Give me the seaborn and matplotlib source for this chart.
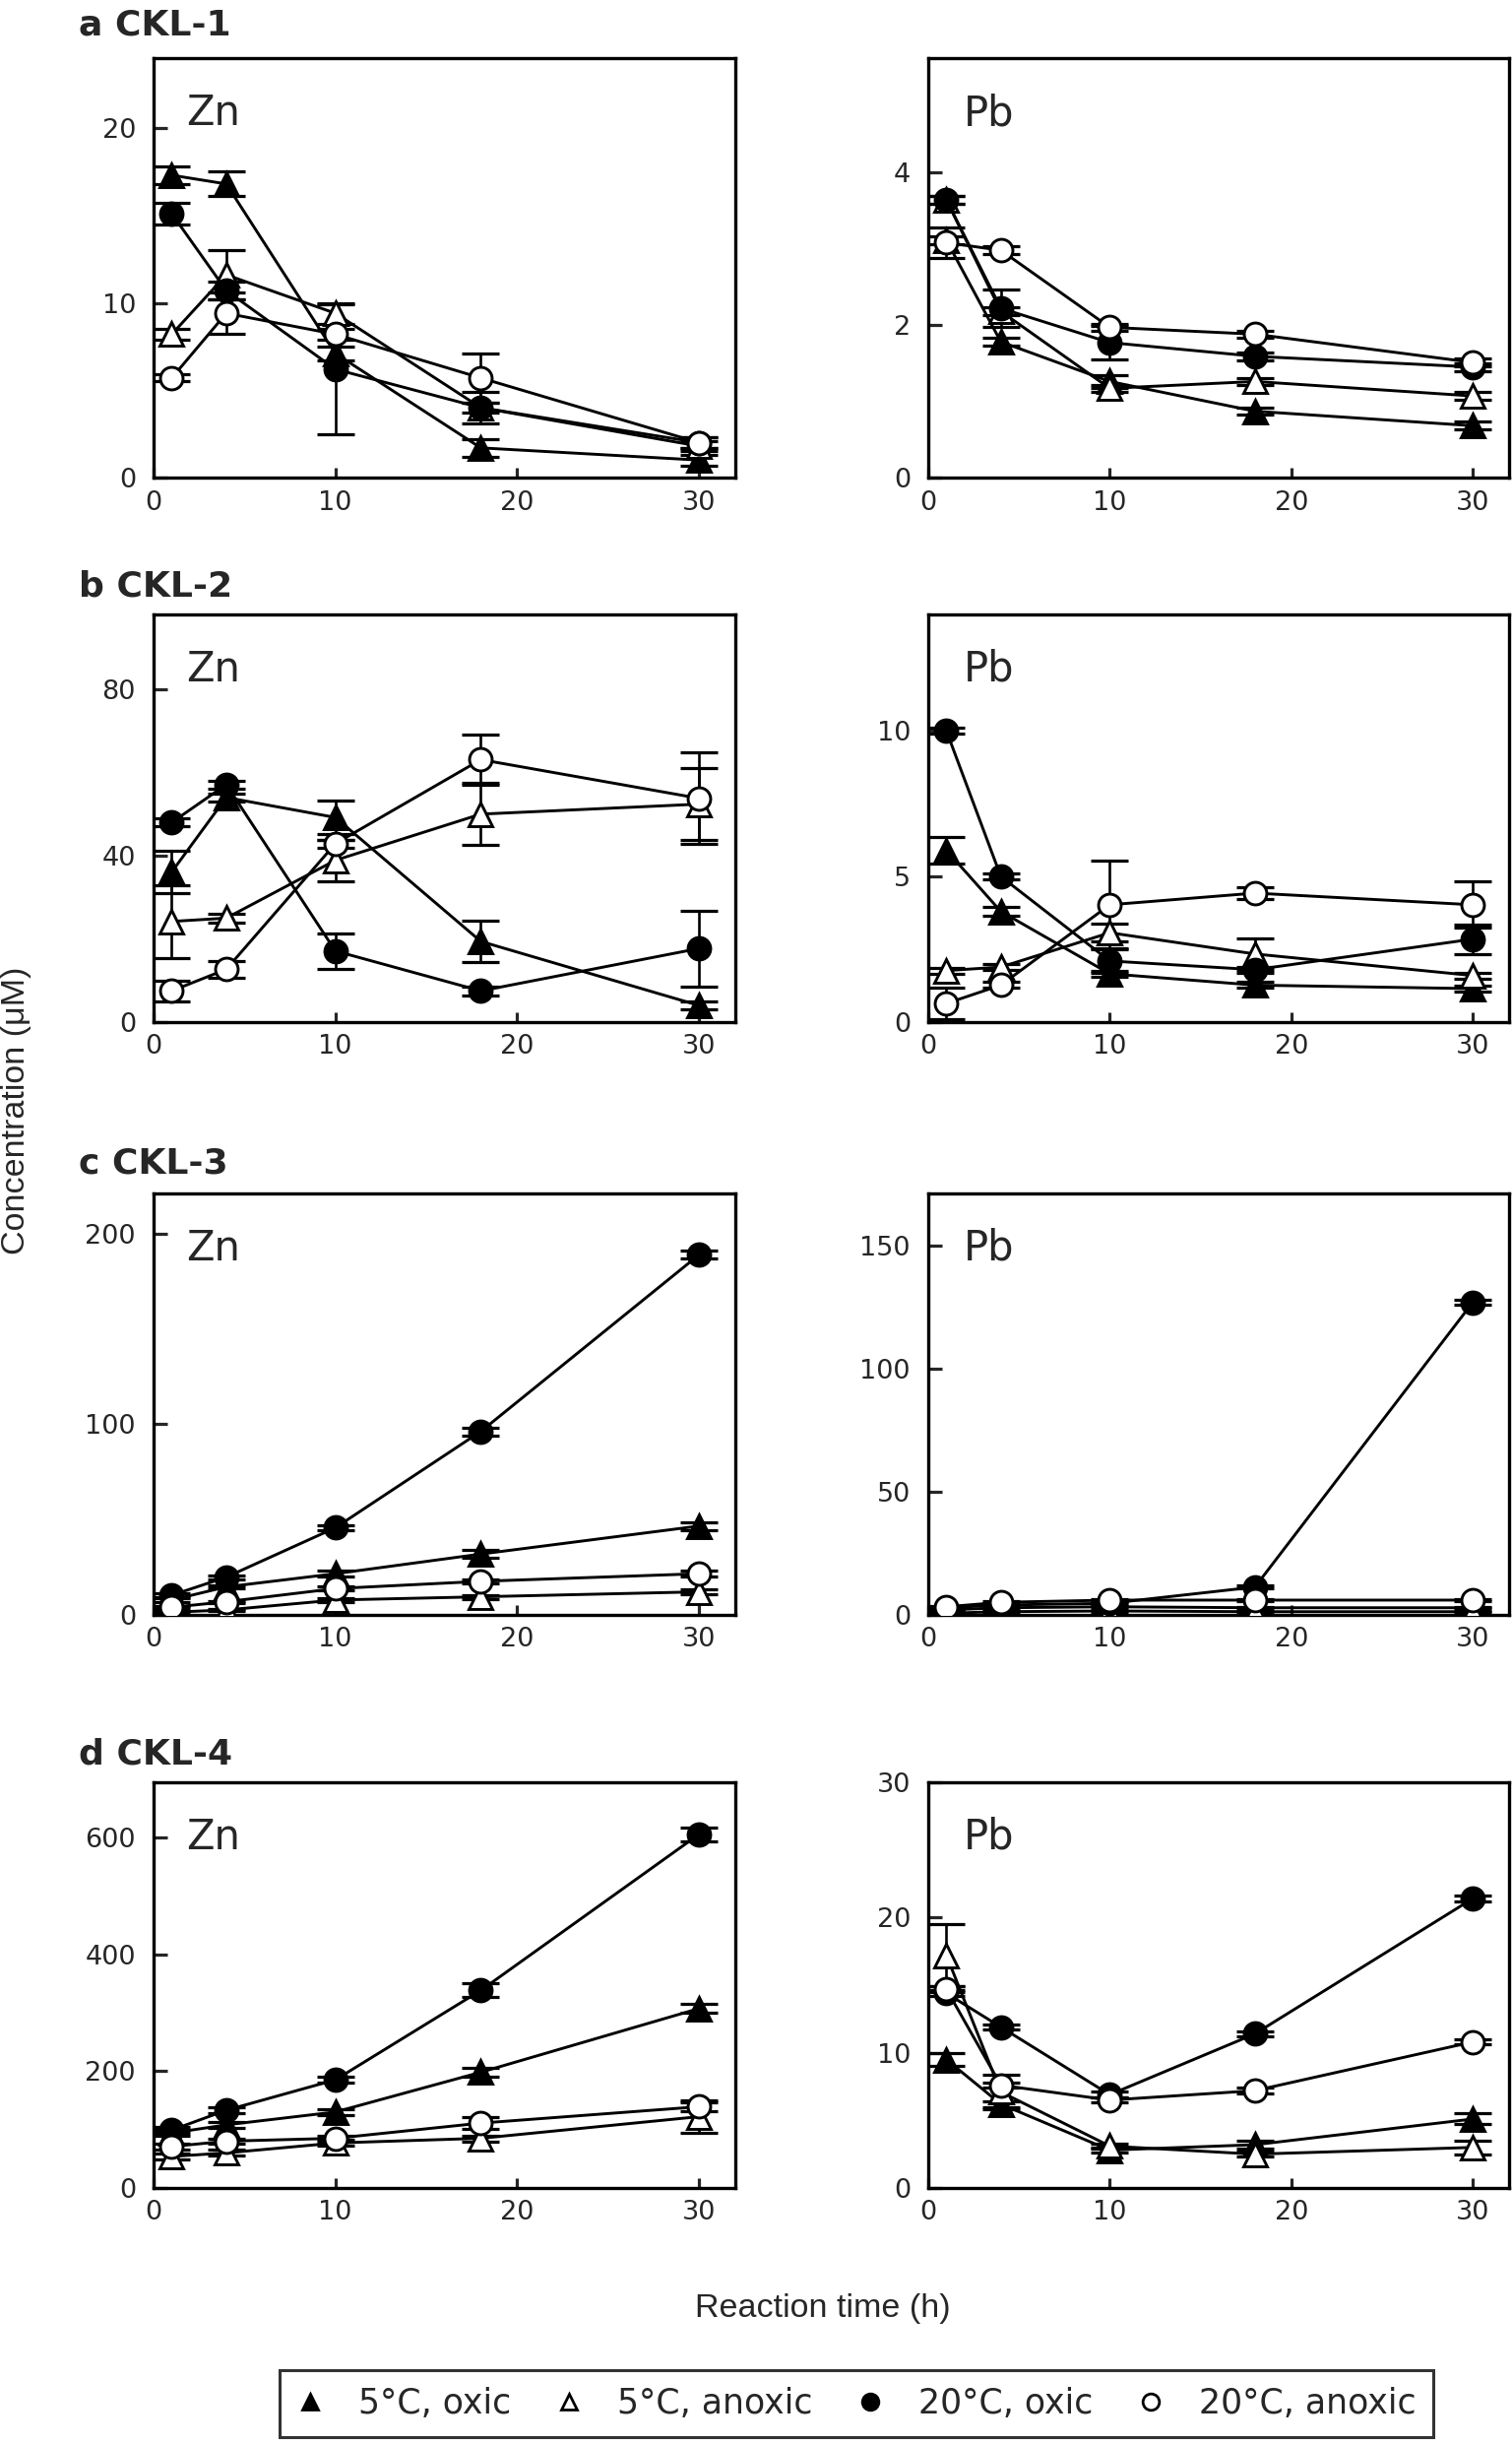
import numpy as np
import pandas as pd
import matplotlib.pyplot as plt
import seaborn as sns
from matplotlib.lines import Line2D

sns.set_style('white')
wide = ['DejaVu Sans']
regular = ['Liberation Sans', 'DejaVu Sans']
plt.rcParams['font.family'] = wide

# reaction times (h) and the four treatments
times = [1, 4, 10, 18, 30]
conditions = ['5°C, oxic', '5°C, anoxic', '20°C, oxic', '20°C, anoxic']

# rows in order of conditions
ckl1_zn = [[17.3, 16.8, 7.1, 1.7, 1.0],
           [8.2, 11.6, 9.4, 4.0, 1.8],
           [15.1, 10.7, 6.2, 4.0, 2.0],
           [5.7, 9.4, 8.2, 5.7, 2.0]]
ckl1_zn_err = [[0.5, 0.7, 0.4, 0.5, 0.3],
               [0.3, 1.4, 0.6, 0.9, 0.3],
               [0.6, 0.5, 3.7, 0.3, 0.3],
               [0.2, 1.2, 0.3, 1.4, 0.3]]
ckl1_pb = [[3.11, 1.78, 1.26, 0.87, 0.68],
           [3.64, 2.18, 1.17, 1.26, 1.07],
           [3.64, 2.22, 1.77, 1.59, 1.45],
           [3.08, 2.98, 1.97, 1.88, 1.51]]
ckl1_pb_err = [[0.05, 0.05, 0.08, 0.05, 0.05],
               [0.05, 0.05, 0.05, 0.05, 0.05],
               [0.05, 0.24, 0.22, 0.05, 0.05],
               [0.2, 0.05, 0.05, 0.05, 0.05]]

ckl2_zn = [[36.1, 54.0, 49.2, 19.4, 4.0],
           [24.2, 25.0, 38.9, 50.0, 52.4],
           [48.0, 57.1, 17.1, 7.5, 17.7],
           [7.5, 12.7, 42.9, 63.1, 53.8]]
ckl2_zn_err = [[5.2, 1.0, 4.0, 5.0, 1.0],
               [8.7, 1.0, 5.0, 7.5, 8.7],
               [1.0, 1.0, 4.2, 1.0, 9.1],
               [2.5, 2.0, 1.0, 6.0, 11.0]]
ckl2_pb = [[5.9, 3.8, 1.66, 1.27, 1.15],
           [1.77, 1.89, 3.07, 2.34, 1.6],
           [10.0, 5.0, 2.1, 1.8, 2.85],
           [0.64, 1.27, 4.03, 4.43, 4.03]]
ckl2_pb_err = [[0.45, 0.15, 0.1, 0.1, 0.1],
               [0.1, 0.1, 0.3, 0.55, 0.1],
               [0.1, 0.1, 0.4, 0.1, 0.5],
               [0.55, 0.1, 1.5, 0.2, 0.8]]

ckl3_zn = [[7.8, 14.7, 21.6, 31.9, 46.6],
           [1.4, 2.6, 7.8, 9.5, 12.1],
           [10.3, 19.8, 45.7, 96.2, 188.8],
           [4.0, 6.9, 13.8, 17.6, 21.6]]
ckl3_zn_err = [[1.0, 1.0, 1.5, 2.0, 2.0],
               [0.5, 0.5, 1.0, 1.0, 1.5],
               [1.0, 1.0, 1.5, 2.0, 2.0],
               [0.5, 0.5, 1.0, 1.0, 1.5]]
ckl3_pb = [[2.0, 2.9, 3.3, 2.9, 2.9],
           [0.7, 1.3, 1.6, 1.3, 1.3],
           [2.9, 4.0, 4.7, 11.3, 126.8],
           [3.3, 5.1, 6.0, 6.0, 6.0]]
ckl3_pb_err = [[0.3, 0.3, 0.3, 0.3, 0.3],
               [0.3, 0.3, 0.3, 0.3, 0.3],
               [0.3, 0.3, 0.3, 0.5, 1.0],
               [0.3, 0.3, 0.3, 0.3, 0.3]]

ckl4_zn = [[94, 108, 130, 198, 307],
           [54, 60, 77, 85, 122],
           [99, 133, 185, 338, 605],
           [71, 80, 85, 111, 139]]
ckl4_zn_err = [[5, 5, 5, 8, 8],
               [5, 5, 5, 5, 28],
               [5, 5, 5, 12, 12],
               [5, 5, 5, 10, 8]]
ckl4_pb = [[9.5, 6.2, 2.8, 3.2, 5.1],
           [17.2, 7.1, 3.1, 2.5, 3.0],
           [14.4, 11.9, 6.9, 11.4, 21.4],
           [14.7, 7.6, 6.5, 7.2, 10.8]]
ckl4_pb_err = [[0.5, 0.2, 0.2, 0.3, 0.4],
               [2.3, 1.3, 0.2, 0.2, 0.5],
               [0.2, 0.2, 0.2, 0.2, 0.2],
               [0.2, 0.2, 0.2, 0.2, 0.2]]

panel_titles = ['a CKL-1', 'b CKL-2', 'c CKL-3', 'd CKL-4']
metals = ['Zn', 'Pb']

markers = ['^', '^', 'o', 'o']
faces = ['black', 'white', 'black', 'white']

W, H = 1536, 2482
fig = plt.figure(figsize=(W / 100, H / 100), dpi=100)

# pixel boxes (top, bottom) of each row, and (left, right) of each column
rows_px = [(59, 485), (624, 1038), (1212, 1640), (1810, 2222)]
cols_px = [(156, 747), (943, 1533)]
title_base = [35, 605, 1192, 1792]

panels = [
    (ckl1_zn, ckl1_zn_err, [0, 10, 20], 24),
    (ckl1_pb, ckl1_pb_err, [0, 2, 4], 5.5),
    (ckl2_zn, ckl2_zn_err, [0, 40, 80], 98),
    (ckl2_pb, ckl2_pb_err, [0, 5, 10], 14),
    (ckl3_zn, ckl3_zn_err, [0, 100, 200], 221),
    (ckl3_pb, ckl3_pb_err, [0, 50, 100, 150], 171),
    (ckl4_zn, ckl4_zn_err, [0, 200, 400, 600], 694),
    (ckl4_pb, ckl4_pb_err, [0, 10, 20, 30], 30),
]

for k, (mean, err, yticks, ymax) in enumerate(panels):
    r, c = divmod(k, 2)
    top, bot = rows_px[r]
    left, right = cols_px[c]
    ax = fig.add_axes([left / W, 1 - bot / H, (right - left) / W, (bot - top) / H])

    for i in range(4):
        ax.errorbar(times, mean[i], yerr=err[i], fmt='none', ecolor='black',
                    elinewidth=1.9, capsize=14, capthick=2.3, zorder=2)
    for i, cond in enumerate(conditions):
        df = pd.DataFrame({'time': times, 'conc': mean[i]})
        sns.lineplot(data=df, x='time', y='conc', ax=ax, color='black', lw=2.1,
                     marker=markers[i], markersize=16.5 if markers[i] == 'o' else 17,
                     markerfacecolor=faces[i], markeredgecolor='black',
                     markeredgewidth=2.1, zorder=3)

    ax.set_xlim(0, 32)
    ax.set_ylim(0, ymax)
    ax.set_xticks([0, 10, 20, 30])
    ax.set_yticks(yticks)
    ax.set_xlabel('')
    ax.set_ylabel('')
    ax.tick_params(direction='in', width=2.3, labelsize=19.5,
                   top=False, right=False, bottom=True, left=True)
    ax.tick_params(axis='y', length=10, pad=13)
    ax.tick_params(axis='x', length=7, pad=9)
    for s in ax.spines.values():
        s.set_linewidth(2.4)
        s.set_color('black')
    ax.text(0.056 if c == 0 else 0.061, 1 - 68 / (bot - top), metals[c],
            transform=ax.transAxes, fontsize=30, va='baseline', ha='left')

    if c == 0:
        fig.text(80 / W, 1 - title_base[r] / H, panel_titles[r], fontsize=26,
                 fontweight='bold', va='baseline', ha='left')

fig.text(17 / W, 1 - 1128 / H, 'Concentration (μM)', rotation=90, fontsize=24.5,
         va='center', ha='center', family=regular)
fig.text(836 / W, 1 - 2345 / H, 'Reaction time (h)', fontsize=24.5,
         va='center', ha='center', family=regular)

handles = [Line2D([], [], ls='none', marker=markers[i], markersize=12,
                  markerfacecolor=faces[i], markeredgecolor='black', markeredgewidth=2.0)
           for i in range(4)]
leg = fig.legend(handles, conditions, loc='center', ncol=4,
                 bbox_to_anchor=(870 / W, 1 - 2441 / H), frameon=True, fancybox=False,
                 fontsize=25, handlelength=0.8, handletextpad=1.0, columnspacing=1.3,
                 borderpad=0.5, edgecolor='black')
leg.get_frame().set_linewidth(2.2)

fig.savefig('out.png', dpi=100, facecolor='white')
